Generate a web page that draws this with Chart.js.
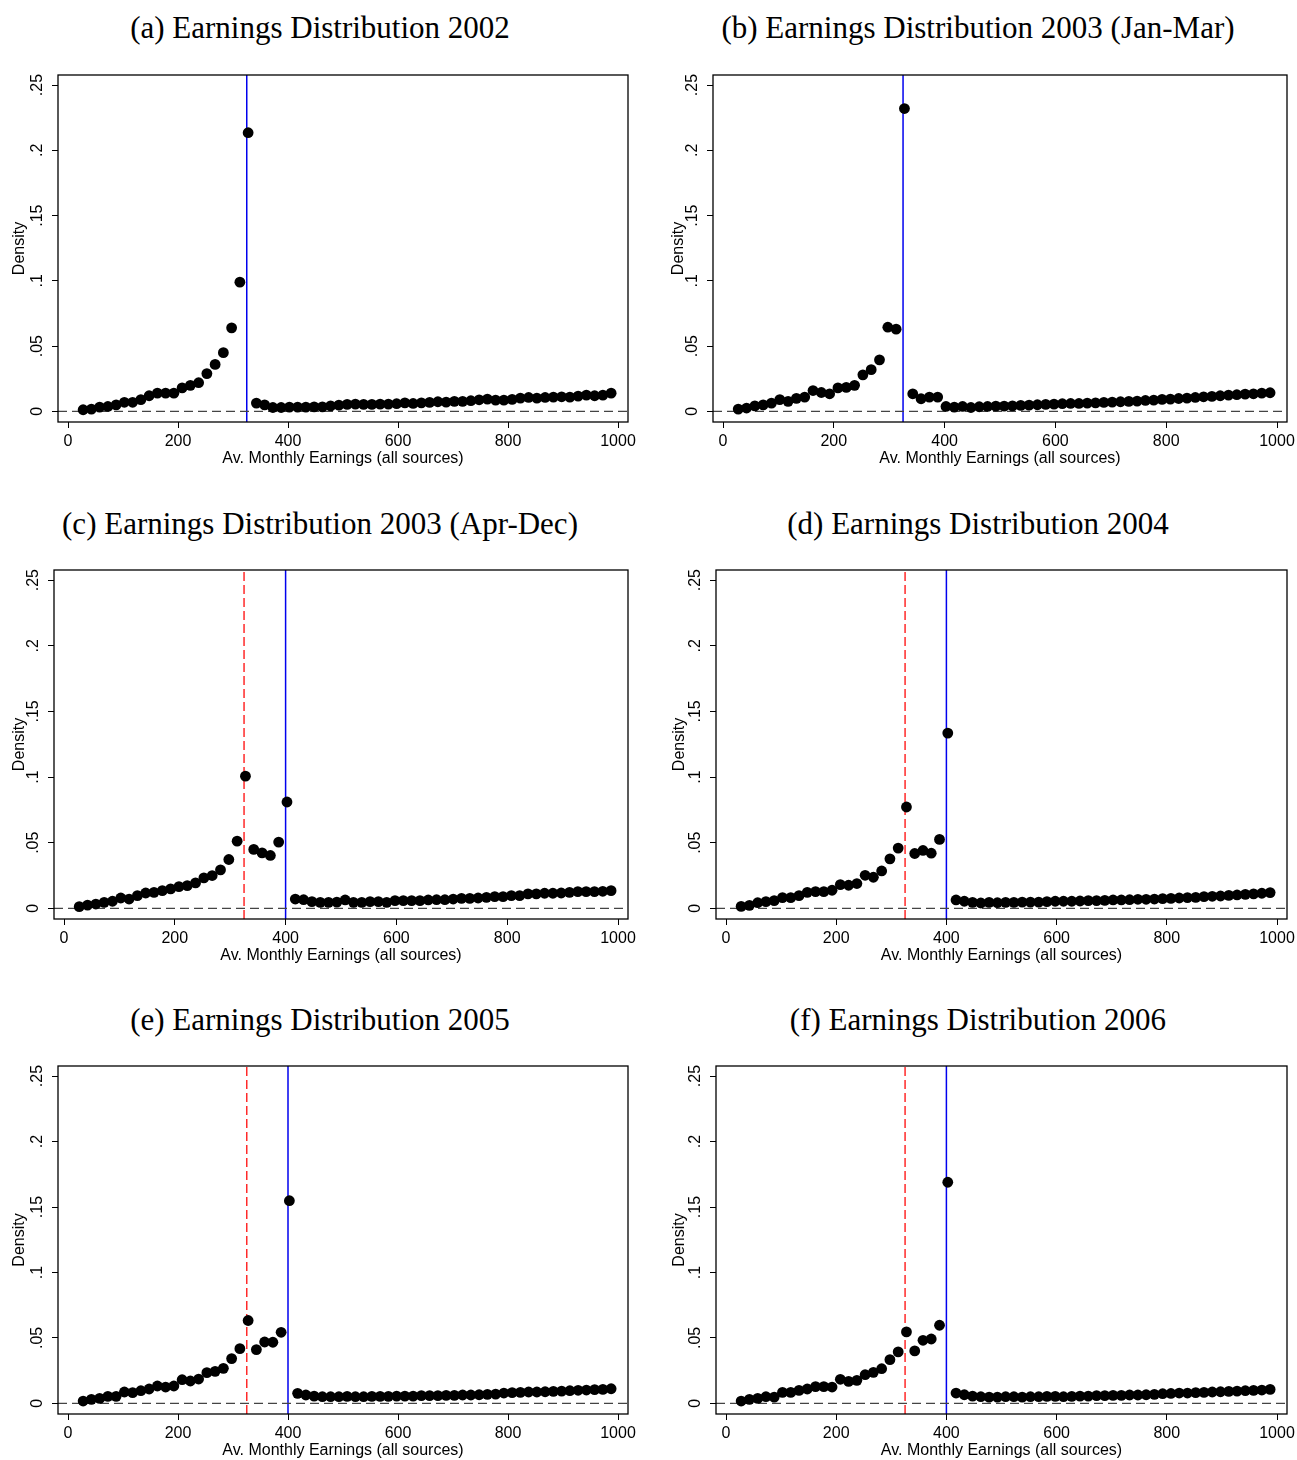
<!DOCTYPE html>
<html>
<head>
<meta charset="utf-8">
<script src="https://cdn.jsdelivr.net/npm/chart.js@4.4.1/dist/chart.umd.min.js"></script>
<style>
  body { margin: 0; background: #fff; width: 1297px; height: 1460px; position: relative; overflow: hidden; }
  .ttl { position: absolute; font-family: "Liberation Serif", serif; font-size: 31px; line-height: 1;
         white-space: nowrap; transform: translate(-50%, -50%); color: #000; }
  canvas { position: absolute; }
</style>
</head>
<body>
<script>
// ─── Data ────────────────────────────────────────────────────────────────────
// bin centres (15-unit bins) of average monthly earnings
const BIN_CENTERS = [
  27.5, 42.5, 57.5, 72.5, 87.5, 102.5, 117.5, 132.5, 147.5, 162.5,
  177.5, 192.5, 207.5, 222.5, 237.5, 252.5, 267.5, 282.5, 297.5, 312.5,
  327.5, 342.5, 357.5, 372.5, 387.5, 402.5, 417.5, 432.5, 447.5, 462.5,
  477.5, 492.5, 507.5, 522.5, 537.5, 552.5, 567.5, 582.5, 597.5, 612.5,
  627.5, 642.5, 657.5, 672.5, 687.5, 702.5, 717.5, 732.5, 747.5, 762.5,
  777.5, 792.5, 807.5, 822.5, 837.5, 852.5, 867.5, 882.5, 897.5, 912.5,
  927.5, 942.5, 957.5, 972.5, 987.5
];

const DENS_2002 = [
  .0013, .0018, .0033, .0038, .0050, .0070, .0070, .0090, .0120, .0140,
  .0140, .0140, .0180, .0200, .0220, .0290, .0360, .0450, .0640, .0990,
  .2135, .0064, .0050, .0030, .0030, .0033, .0033, .0033, .0035, .0035,
  .0043, .0048, .0054, .0056, .0054, .0054, .0056, .0056, .0059, .0066,
  .0061, .0066, .0069, .0074, .0071, .0077, .0077, .0082, .0089, .0094,
  .0087, .0087, .0092, .0102, .0107, .0102, .0107, .0110, .0112, .0110,
  .0117, .0125, .0120, .0125, .0140
];
const DENS_2003_JAN_MAR = [
  .0018, .0026, .0043, .0050, .0064, .0090, .0077, .0100, .0110, .0160,
  .0145, .0135, .0180, .0184, .0200, .0280, .0320, .0395, .0645, .0630,
  .2320, .0135, .0097, .0110, .0110, .0038, .0033, .0038, .0030, .0036,
  .0038, .0041, .0041, .0043, .0046, .0048, .0051, .0054, .0056, .0059,
  .0061, .0061, .0064, .0066, .0069, .0071, .0074, .0077, .0079, .0084,
  .0087, .0092, .0094, .0099, .0102, .0107, .0112, .0115, .0120, .0125,
  .0128, .0133, .0135, .0140, .0143
];
const DENS_2003_APR_DEC = [
  .0013, .0025, .0033, .0046, .0054, .0079, .0071, .0097, .0117, .0122,
  .0135, .0148, .0166, .0173, .0194, .0232, .0250, .0293, .0372, .0512,
  .1007, .0449, .0423, .0403, .0505, .0810, .0071, .0066, .0051, .0046,
  .0046, .0048, .0064, .0046, .0046, .0051, .0051, .0046, .0059, .0059,
  .0059, .0059, .0064, .0066, .0066, .0071, .0076, .0076, .0079, .0084,
  .0089, .0089, .0097, .0097, .0110, .0110, .0115, .0115, .0117, .0122,
  .0127, .0127, .0127, .0130, .0135
];
const DENS_2004 = [
  .0015, .0023, .0043, .0051, .0059, .0082, .0082, .0097, .0122, .0127,
  .0127, .0138, .0181, .0176, .0189, .0252, .0237, .0285, .0377, .0459,
  .0772, .0418, .0441, .0420, .0525, .1335, .0064, .0054, .0046, .0041,
  .0046, .0043, .0046, .0046, .0048, .0048, .0048, .0051, .0054, .0054,
  .0054, .0056, .0059, .0059, .0061, .0064, .0064, .0066, .0069, .0069,
  .0071, .0074, .0076, .0079, .0082, .0084, .0089, .0092, .0094, .0099,
  .0102, .0107, .0110, .0115, .0120
];
const DENS_2005 = [
  .0018, .0031, .0038, .0054, .0054, .0087, .0082, .0097, .0110, .0133,
  .0125, .0133, .0181, .0171, .0186, .0235, .0245, .0268, .0342, .0418,
  .0633, .0411, .0469, .0467, .0543, .1548, .0077, .0064, .0056, .0051,
  .0051, .0051, .0054, .0051, .0051, .0054, .0054, .0054, .0056, .0056,
  .0056, .0059, .0059, .0059, .0061, .0061, .0064, .0064, .0066, .0069,
  .0071, .0079, .0082, .0084, .0087, .0087, .0089, .0092, .0094, .0097,
  .0100, .0102, .0105, .0107, .0112
];
const DENS_2006 = [
  .0018, .0031, .0038, .0051, .0048, .0084, .0084, .0099, .0110, .0128,
  .0128, .0125, .0184, .0168, .0176, .0219, .0237, .0265, .0334, .0393,
  .0546, .0401, .0482, .0492, .0597, .1689, .0079, .0066, .0056, .0051,
  .0048, .0048, .0051, .0051, .0048, .0051, .0051, .0054, .0054, .0051,
  .0054, .0056, .0056, .0059, .0059, .0061, .0061, .0064, .0064, .0066,
  .0069, .0074, .0076, .0079, .0079, .0082, .0084, .0087, .0089, .0092,
  .0094, .0097, .0099, .0102, .0107
];

const PANEL_TITLES = [
  "(a) Earnings Distribution 2002",
  "(b) Earnings Distribution 2003 (Jan-Mar)",
  "(c) Earnings Distribution 2003 (Apr-Dec)",
  "(d) Earnings Distribution 2004",
  "(e) Earnings Distribution 2005",
  "(f) Earnings Distribution 2006"
];
const PANEL_SERIES = [DENS_2002, DENS_2003_JAN_MAR, DENS_2003_APR_DEC, DENS_2004, DENS_2005, DENS_2006];
const CURRENT_THRESHOLD = [325, 325, 400, 400, 400, 400];   // solid blue line
const PREVIOUS_THRESHOLD = [null, null, 325, 325, 325, 325]; // dashed red line

const X_TICKS = [0, 200, 400, 600, 800, 1000];
const X_TICK_LABELS = ["0", "200", "400", "600", "800", "1000"];
const Y_TICKS = [0, .05, .1, .15, .2, .25];
const Y_TICK_LABELS = ["0", ".05", ".1", ".15", ".2", ".25"];
const X_TITLE = "Av. Monthly Earnings (all sources)";
const Y_TITLE = "Density";

// ─── Layout (page pixels) ────────────────────────────────────────────────────
// plot frame [left, top, right, bottom], title centre, gap from frame to "Density"
const FRAMES = [
  [58, 75, 628, 422], [713, 75, 1287, 422],
  [54, 570, 628, 919], [716, 570, 1287, 919],
  [58, 1066, 628, 1414], [716, 1066, 1287, 1414]
];
const TITLE_POS = [[320, 27], [978, 27], [320, 523], [978, 523], [320, 1019], [978, 1019]];
const DENSITY_GAP = [38, 34, 34, 36, 38, 36];

const Y_MIN = -0.0081, Y_MAX = 0.2577;
const Y_AXIS_W = 60, X_AXIS_H = 46, PAD_TOP = 16, PAD_RIGHT = 16;
const FONT = "'Liberation Sans', Arial, sans-serif";

// frame around the plot region
const frameBox = {
  id: "frameBox",
  afterDraw(chart) {
    const { ctx, chartArea: a } = chart;
    ctx.save();
    ctx.strokeStyle = "#000";
    ctx.lineWidth = 1.3;
    ctx.strokeRect(a.left, a.top, a.right - a.left, a.bottom - a.top);
    ctx.restore();
  }
};

function makePanel(i) {
  const [L, T, R, B] = FRAMES[i];
  const W = R - L;
  const pxPerUnit = (W - 20) / 1000;
  const xMin = -10 / pxPerUnit, xMax = 1000 + 10 / pxPerUnit;

  const t = document.createElement("div");
  t.className = "ttl";
  t.textContent = PANEL_TITLES[i];
  t.style.left = TITLE_POS[i][0] + "px";
  t.style.top = TITLE_POS[i][1] + "px";
  document.body.appendChild(t);

  const cw = Y_AXIS_W + W + PAD_RIGHT, ch = PAD_TOP + (B - T) + X_AXIS_H;
  const canvas = document.createElement("canvas");
  canvas.style.left = (L - Y_AXIS_W) + "px";
  canvas.style.top = (T - PAD_TOP) + "px";
  canvas.style.width = cw + "px";
  canvas.style.height = ch + "px";
  canvas.width = cw;
  canvas.height = ch;
  document.body.appendChild(canvas);

  const datasets = [
    {
      data: BIN_CENTERS.map((x, k) => ({ x, y: PANEL_SERIES[i][k] })),
      pointRadius: 5.4,
      pointBackgroundColor: "#000",
      pointBorderWidth: 0,
      showLine: false
    },
    {
      data: [{ x: xMin, y: 0 }, { x: xMax, y: 0 }],
      showLine: true, pointRadius: 0,
      borderColor: "#444", borderWidth: 1.3, borderDash: [9, 5]
    },
    {
      data: [{ x: CURRENT_THRESHOLD[i], y: Y_MIN }, { x: CURRENT_THRESHOLD[i], y: Y_MAX }],
      showLine: true, pointRadius: 0,
      borderColor: "#0000ee", borderWidth: 1.5
    }
  ];
  if (PREVIOUS_THRESHOLD[i] !== null) {
    datasets.push({
      data: [{ x: PREVIOUS_THRESHOLD[i], y: Y_MIN }, { x: PREVIOUS_THRESHOLD[i], y: Y_MAX }],
      showLine: true, pointRadius: 0,
      borderColor: "#ff2a2a", borderWidth: 1.5, borderDash: [9, 4]
    });
  }

  new Chart(canvas, {
    type: "scatter",
    data: { datasets },
    plugins: [frameBox],
    options: {
      responsive: false,
      animation: false,
      devicePixelRatio: 1,
      layout: { padding: { left: 0, top: PAD_TOP, right: PAD_RIGHT, bottom: 0 } },
      plugins: { legend: { display: false }, tooltip: { enabled: false } },
      scales: {
        x: {
          type: "linear", min: xMin, max: xMax,
          afterBuildTicks: (s) => { s.ticks = X_TICKS.map((v) => ({ value: v })); },
          afterFit: (s) => { s.height = X_AXIS_H; },
          ticks: { callback: (v, k) => X_TICK_LABELS[k], color: "#000", padding: 4,
                   maxRotation: 0, autoSkip: false, font: { family: FONT, size: 16 } },
          grid: { display: true, drawOnChartArea: false, drawTicks: true, tickLength: 6,
                  color: "#000", tickColor: "#000", lineWidth: 1 },
          border: { display: false },
          title: { display: true, text: X_TITLE, color: "#000",
                   font: { family: FONT, size: 16 }, padding: { top: 0, bottom: 0 } }
        },
        y: {
          type: "linear", min: Y_MIN, max: Y_MAX,
          afterBuildTicks: (s) => { s.ticks = Y_TICKS.map((v) => ({ value: v })); },
          afterFit: (s) => { s.width = Y_AXIS_W; },
          ticks: { callback: (v, k) => Y_TICK_LABELS[k], color: "#000", padding: 3.5,
                   minRotation: 90, maxRotation: 90, crossAlign: "center", autoSkip: false,
                   font: { family: FONT, size: 16 } },
          grid: { display: true, drawOnChartArea: false, drawTicks: true, tickLength: 6,
                  color: "#000", tickColor: "#000", lineWidth: 1 },
          border: { display: false },
          title: { display: true, text: Y_TITLE, color: "#000",
                   font: { family: FONT, size: 16 },
                   padding: { top: Y_AXIS_W - DENSITY_GAP[i] - 9.6, bottom: 0 } }
        }
      }
    }
  });
}

for (let i = 0; i < 6; i++) makePanel(i);
</script>
</body>
</html>
